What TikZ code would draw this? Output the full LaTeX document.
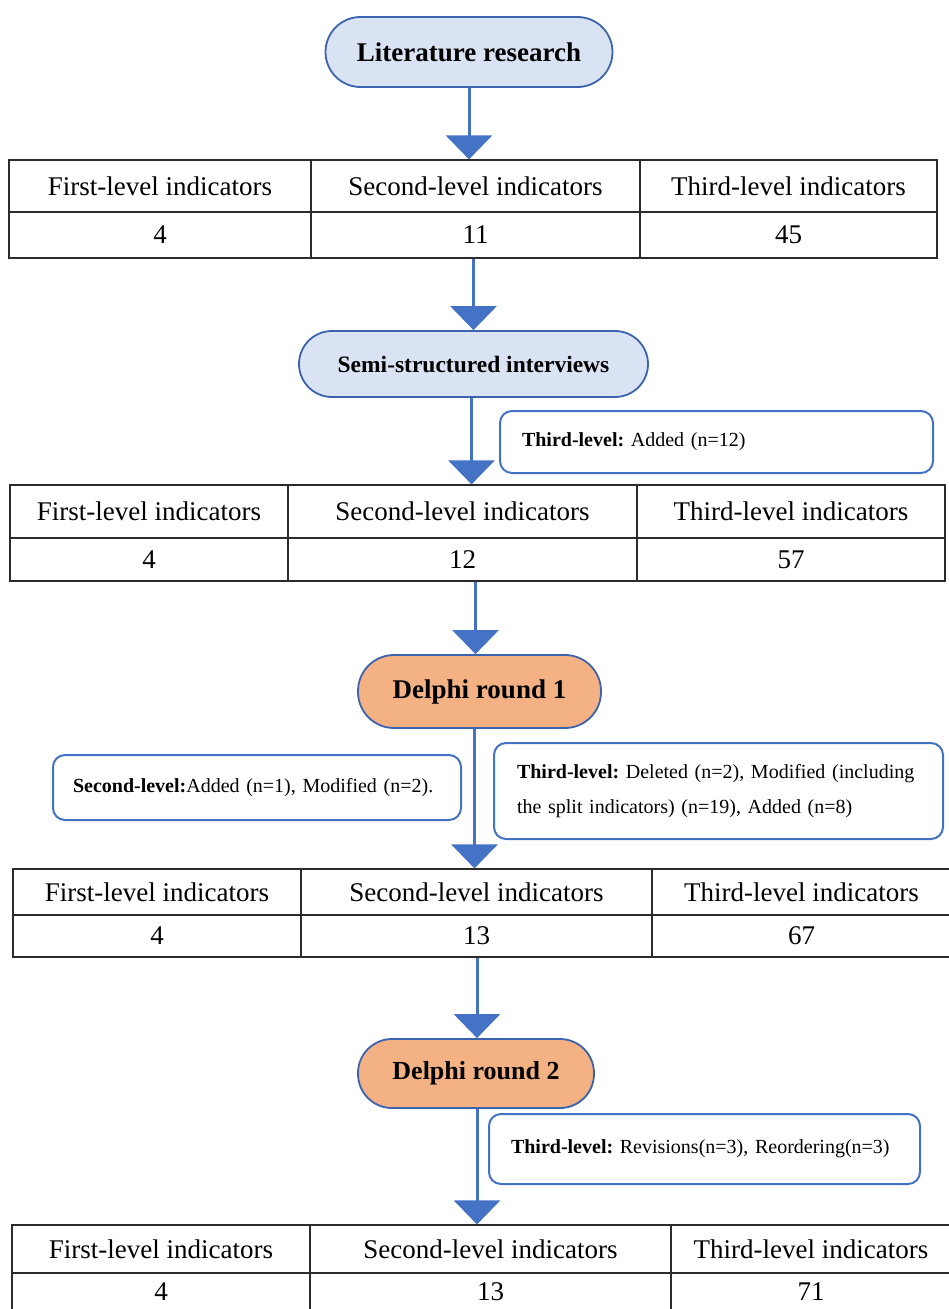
\documentclass[tikz,border=0pt]{standalone}
\usepackage{fontspec}
\setmainfont{Liberation Serif}
\usetikzlibrary{arrows.meta}
\hyphenpenalty=10000
\exhyphenpenalty=10000
\definecolor{flowblue}{HTML}{4472C4}
\definecolor{edgeblue}{HTML}{3B63AE}
\definecolor{lightblue}{HTML}{DAE3F3}
\definecolor{orangefill}{HTML}{F4B183}
\definecolor{tableline}{HTML}{2B2B2B}
\tikzset{
  cell/.style={draw=tableline, line width=1.2pt, inner sep=0pt, font=\fontsize{27}{27}\selectfont},
  stadium/.style={draw=edgeblue, line width=1.8pt, inner sep=0pt, font=\bfseries},
  notebox/.style={draw=flowblue, line width=2pt, rounded corners=12pt, align=left, inner sep=0pt,
    font=\fontsize{20}{35}\selectfont\frenchspacing},
  flowarrow/.style={draw=flowblue, line width=3pt, -{Triangle[width=46pt,length=24pt]}, fill=flowblue}
}
\newcommand\mycell[6]{\node[cell, minimum width={(#4-#2)*1pt}, minimum height={(#5-#3)*1pt}] (#1) at ({(#2+#4)/2},{(#3+#5)/2}) {#6};}
\begin{document}
\begin{tikzpicture}[x=1pt,y=-1pt]
\useasboundingbox[fill=white] (0,0) rectangle (949,1309);

% Literature research
\node[stadium, fill=lightblue, minimum width=287pt, minimum height=70pt, rounded corners=35pt,
  font=\bfseries\fontsize{27}{27}\selectfont] (lit) at (469,52) {Literature research};

% Table 1
\mycell{t1a}{9}{160}{311}{212}{First-level indicators}
\mycell{t1b}{311}{160}{640}{212}{Second-level indicators}
\mycell{t1c}{640}{160}{937}{212}{Third-level indicators}
\mycell{t1d}{9}{212}{311}{258}{4}
\mycell{t1e}{311}{212}{640}{258}{11}
\mycell{t1f}{640}{212}{937}{258}{45}

% Semi-structured interviews
\node[stadium, fill=lightblue, minimum width=349pt, minimum height=66pt, rounded corners=33pt,
  font=\bfseries\fontsize{23.5}{23.5}\selectfont] (semi) at (473.5,364) {Semi-structured interviews};

\node[notebox, minimum width=433pt, minimum height=62pt, text width=389pt] (n1) at (716.5,442)
  {\textbf{Third-level:} Added (n=12)};

% Table 2
\mycell{t2a}{10}{485}{288}{538}{First-level indicators}
\mycell{t2b}{288}{485}{637}{538}{Second-level indicators}
\mycell{t2c}{637}{485}{945}{538}{Third-level indicators}
\mycell{t2d}{10}{538}{288}{581}{4}
\mycell{t2e}{288}{538}{637}{581}{12}
\mycell{t2f}{637}{538}{945}{581}{57}

% Delphi round 1
\node[stadium, fill=orangefill, minimum width=243pt, minimum height=73pt, rounded corners=36pt,
  font=\bfseries\fontsize{27}{27}\selectfont] (d1) at (479.5,691.5) {Delphi round 1};

\node[notebox, minimum width=408pt, minimum height=65pt, text width=368pt] (n2) at (257,787.5)
  {\textbf{Second-level:}Added (n=1), Modified (n=2).};
\node[notebox, minimum width=449pt, minimum height=96pt, text width=403pt] (n3) at (718.5,791)
  {\textbf{Third-level:} Deleted (n=2), Modified (including\\the split indicators) (n=19), Added (n=8)};

% Table 3
\mycell{t3a}{13}{869}{301}{915}{First-level indicators}
\mycell{t3b}{301}{869}{652}{915}{Second-level indicators}
\mycell{t3c}{652}{869}{951}{915}{Third-level indicators}
\mycell{t3d}{13}{915}{301}{957}{4}
\mycell{t3e}{301}{915}{652}{957}{13}
\mycell{t3f}{652}{915}{951}{957}{67}

% Delphi round 2
\node[stadium, fill=orangefill, minimum width=236pt, minimum height=69pt, rounded corners=34pt,
  font=\bfseries\fontsize{26}{26}\selectfont] (d2) at (476,1073.5) {Delphi round 2};

\node[notebox, minimum width=431pt, minimum height=70pt, text width=387pt] (n4) at (704.5,1149)
  {\textbf{Third-level:} Revisions(n=3), Reordering(n=3)};

% Table 4
\mycell{t4a}{12}{1225}{310}{1273}{First-level indicators}
\mycell{t4b}{310}{1225}{671}{1273}{Second-level indicators}
\mycell{t4c}{671}{1225}{951}{1273}{Third-level indicators}
\mycell{t4d}{12}{1273}{310}{1311}{4}
\mycell{t4e}{310}{1273}{671}{1311}{13}
\mycell{t4f}{671}{1273}{951}{1311}{71}

% Arrows
\draw[flowarrow] (lit.south) -- (lit.south |- t1b.north);
\draw[flowarrow] (t1e.south -| semi.north) -- (semi.north);
\draw[flowarrow] ([xshift=-2pt]semi.south) -- ([xshift=-2pt]semi.south |- t2b.north);
\draw[flowarrow] ([xshift=-4pt]d1.north |- t2e.south) -- ([xshift=-4pt]d1.north);
\draw[flowarrow] ([xshift=-5pt]d1.south) -- ([xshift=-5pt]d1.south |- t3b.north);
\draw[flowarrow] ([xshift=1pt]d2.north |- t3e.south) -- ([xshift=1pt]d2.north);
\draw[flowarrow] ([xshift=1pt]d2.south) -- ([xshift=1pt]d2.south |- t4b.north);
\end{tikzpicture}
\end{document}
